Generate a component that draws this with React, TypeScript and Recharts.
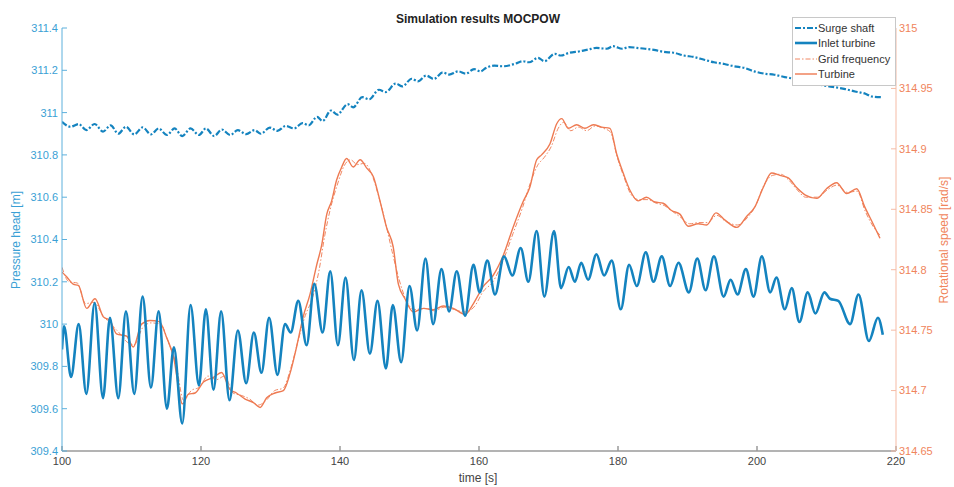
import { LineChart, Line, XAxis, YAxis } from 'recharts';

// time ticks and axis ticks
const xTicks = [100, 120, 140, 160, 180, 200, 220];
const headTicks = [309.4, 309.6, 309.8, 310, 310.2, 310.4, 310.6, 310.8, 311, 311.2, 311.4];
const speedTicks = [314.65, 314.7, 314.75, 314.8, 314.85, 314.9, 314.95, 315];

// Surge shaft (pressure head, m)
const surgeT = [100, 101.2, 102.4, 103.5, 104.7, 105.9, 107, 108.1, 109.2, 110.4, 111.6, 112.8, 113.9, 115.1, 116.2, 117.3, 118.5, 119.7, 120.7, 121.9, 123, 124.2, 125.3, 126.5, 127.7, 128.6, 129.9, 131, 132.2, 133.4, 134.6, 135.5, 136.7, 137.5, 138.7, 139.6, 141.1, 141.9, 143.2, 144.2, 145.6, 146.6, 148, 149, 150.3, 151.2, 152.4, 153.5, 154.8, 155.7, 157, 158.1, 159.3, 160.2, 161, 162.2, 163.4, 165.3, 166.3, 167.2, 168.5, 169.4, 170.9, 171.8, 173, 174.5, 175.7, 176.9, 178.4, 179.3, 180.6, 181.6, 182.7, 183.9, 185.4, 186.6, 188, 189.5, 190.9, 192.4, 193.8, 195.3, 196.7, 198.2, 199.6, 201.1, 202.5, 204, 205.4, 206.9, 208.3, 209.8, 211.2, 212.7, 214.1, 215.6, 216.5, 218];
const surgeV = [310.957, 310.933, 310.946, 310.917, 310.946, 310.91, 310.94, 310.9, 310.933, 310.897, 310.93, 310.897, 310.925, 310.894, 310.925, 310.889, 310.925, 310.894, 310.925, 310.889, 310.92, 310.894, 310.917, 310.898, 310.917, 310.9, 310.929, 310.914, 310.937, 310.925, 310.95, 310.94, 310.98, 310.96, 311.01, 310.99, 311.04, 311.025, 311.073, 311.063, 311.108, 311.097, 311.137, 311.124, 311.16, 311.148, 311.175, 311.159, 311.19, 311.18, 311.195, 311.184, 311.206, 311.195, 311.211, 311.222, 311.219, 311.232, 311.243, 311.238, 311.259, 311.243, 311.278, 311.27, 311.283, 311.29, 311.298, 311.306, 311.302, 311.314, 311.302, 311.31, 311.306, 311.302, 311.295, 311.287, 311.283, 311.27, 311.263, 311.25, 311.238, 311.23, 311.219, 311.211, 311.195, 311.184, 311.179, 311.168, 311.159, 311.148, 311.137, 311.127, 311.12, 311.111, 311.1, 311.089, 311.076, 311.073];

// Inlet turbine (pressure head, m)
const inletT = [100, 100.3, 101.3, 102.4, 103.5, 104.7, 105.9, 106.9, 108.1, 109.2, 110.4, 111.6, 112.8, 113.9, 115.1, 116.1, 117.3, 118.5, 119.7, 120.7, 121.8, 122.9, 124.1, 125.3, 126.5, 127.6, 128.7, 129.8, 131, 132.1, 132.9, 134, 135.2, 136.3, 137.5, 138.6, 139.7, 140.8, 142, 143.1, 144.3, 145.4, 146.6, 147.6, 148.8, 150, 151.1, 152.3, 153.4, 154.6, 155.7, 156.8, 158, 159.2, 160.1, 161.2, 162.3, 163.6, 164.8, 166, 167.1, 168.3, 169.4, 170.8, 171.8, 172.9, 173.8, 174.7, 175.7, 176.9, 178, 179.1, 180.4, 181.6, 182.7, 184, 185.1, 186.3, 187.5, 188.7, 190.2, 191.4, 192.6, 193.8, 195.2, 196.2, 197.2, 198.4, 199.5, 200.7, 201.9, 202.8, 204, 205, 206.1, 207.3, 208.4, 209.7, 210.5, 211.7, 213.4, 214.6, 216.1, 217.4, 218.1];
const inletV = [309.88, 309.99, 309.75, 310, 309.67, 310.1, 309.65, 310.03, 309.65, 310.06, 309.67, 310.13, 309.7, 310.06, 309.6, 309.89, 309.53, 310.09, 309.71, 310.07, 309.69, 310.06, 309.64, 309.97, 309.72, 309.96, 309.77, 310.03, 309.76, 310, 309.96, 310.11, 309.9, 310.19, 309.96, 310.25, 309.9, 310.22, 309.83, 310.16, 309.86, 310.11, 309.79, 310.09, 309.82, 310.18, 309.97, 310.31, 310, 310.26, 310.06, 310.25, 310.04, 310.28, 310.15, 310.3, 310.14, 310.32, 310.23, 310.36, 310.2, 310.44, 310.13, 310.44, 310.17, 310.27, 310.2, 310.29, 310.21, 310.33, 310.23, 310.3, 310.07, 310.28, 310.18, 310.34, 310.2, 310.32, 310.18, 310.29, 310.15, 310.31, 310.16, 310.32, 310.13, 310.21, 310.14, 310.26, 310.13, 310.32, 310.15, 310.22, 310.07, 310.17, 310.01, 310.15, 310.05, 310.15, 310.12, 310.11, 310, 310.14, 309.92, 310.03, 309.95];

// Grid frequency (rotational speed, rad/s)
const gridT = [100, 101, 102.2, 103.4, 104.6, 105.8, 107, 108.2, 109.4, 110.4, 111.6, 112.8, 114.2, 115.3, 116.4, 117.5, 118.6, 119.8, 121, 122.2, 123.4, 124.6, 125.8, 127, 128.2, 129.4, 130.6, 131.8, 133, 134, 135, 136, 137, 137.8, 138.6, 139.6, 140.6, 141.5, 142.5, 143.5, 144.5, 145.5, 146.5, 147.5, 148.5, 149.5, 150.7, 152.2, 153.6, 155, 156.5, 158, 159.4, 160.6, 162, 163.5, 164.9, 166.3, 167.4, 168.4, 169.4, 170.4, 171.4, 172.2, 173.2, 174.3, 175.5, 176.7, 177.9, 178.9, 179.9, 180.9, 181.9, 183, 184.3, 185.5, 186.7, 187.9, 189.1, 190.3, 191.6, 192.9, 194.2, 195.5, 197.2, 198.6, 199.8, 201, 202.2, 203.4, 204.6, 205.8, 207, 208.7, 210.1, 211.5, 213, 214.4, 215.6, 216.8, 217.8];
const gridV = [314.802, 314.79, 314.789, 314.772, 314.773, 314.763, 314.755, 314.748, 314.74, 314.738, 314.752, 314.756, 314.755, 314.74, 314.722, 314.692, 314.7, 314.703, 314.712, 314.709, 314.712, 314.698, 314.696, 314.693, 314.688, 314.692, 314.7, 314.702, 314.72, 314.742, 314.762, 314.776, 314.8, 314.828, 314.85, 314.87, 314.886, 314.891, 314.887, 314.888, 314.88, 314.862, 314.84, 314.815, 314.792, 314.775, 314.767, 314.768, 314.766, 314.769, 314.767, 314.765, 314.77, 314.782, 314.79, 314.808, 314.83, 314.852, 314.872, 314.886, 314.893, 314.902, 314.917, 314.922, 314.915, 314.918, 314.915, 314.919, 314.917, 314.914, 314.893, 314.876, 314.862, 314.858, 314.858, 314.855, 314.853, 314.848, 314.843, 314.838, 314.839, 314.839, 314.845, 314.84, 314.837, 314.843, 314.853, 314.87, 314.878, 314.879, 314.874, 314.866, 314.86, 314.86, 314.866, 314.87, 314.864, 314.865, 314.848, 314.835, 314.828];

// Turbine (rotational speed, rad/s)
const turbT = [100, 100.7, 101.6, 102.35, 103.55, 104.75, 105.95, 106.9, 107.85, 109.3, 110.25, 111.45, 112.65, 114, 115.05, 116, 117.35, 118.2, 119.15, 120.35, 121.8, 122.95, 124.15, 125.1, 126.35, 127.55, 128.5, 129.45, 130.65, 131.85, 132.8, 133.75, 134.7, 135.7, 136.65, 137.35, 138.1, 138.8, 139.5, 140.25, 140.95, 141.9, 142.9, 143.85, 144.8, 145.75, 146.7, 147.65, 148.4, 149.35, 150.55, 152, 153.45, 154.85, 156.3, 158, 159.2, 160.6, 162, 163.5, 164.9, 166.4, 167.3, 168.3, 169, 170.2, 171.2, 171.9, 172.85, 174.05, 175.25, 176.45, 177.65, 178.85, 179.8, 180.75, 181.7, 182.9, 184.1, 185.3, 186.5, 187.7, 188.9, 190.1, 191.55, 192.75, 194.1, 195.4, 197.1, 198.5, 199.7, 200.9, 202.1, 203.3, 204.5, 205.7, 206.9, 208.6, 210, 211.45, 212.9, 214.35, 215.5, 216.7, 217.7];
const turbV = [314.798, 314.794, 314.788, 314.787, 314.768, 314.776, 314.761, 314.758, 314.747, 314.745, 314.736, 314.755, 314.758, 314.757, 314.744, 314.729, 314.689, 314.697, 314.698, 314.707, 314.711, 314.715, 314.701, 314.698, 314.693, 314.69, 314.686, 314.694, 314.698, 314.7, 314.714, 314.736, 314.761, 314.78, 314.804, 314.82, 314.846, 314.857, 314.874, 314.885, 314.892, 314.885, 314.891, 314.884, 314.877, 314.857, 314.835, 314.819, 314.788, 314.776, 314.765, 314.768, 314.767, 314.77, 314.768, 314.763, 314.772, 314.786, 314.795, 314.812, 314.835, 314.857, 314.868, 314.891, 314.895, 314.904, 314.921, 314.925, 314.917, 314.92, 314.917, 314.92, 314.918, 314.917, 314.896, 314.88, 314.866, 314.857, 314.86, 314.856, 314.855, 314.849, 314.846, 314.836, 314.838, 314.837, 314.847, 314.841, 314.835, 314.844, 314.852, 314.868, 314.88, 314.878, 314.876, 314.868, 314.862, 314.859, 314.867, 314.872, 314.863, 314.867, 314.852, 314.838, 314.826];

const BLUE = '#1483bf';
const BLUE_TXT = '#3a9fd5';
const ORANGE = '#ee7a52';
const ORANGE_TXT = '#f0855c';
const FONT = '"Liberation Sans", Arial, sans-serif';

const zip = (t: number[], v: number[]) => t.map((x, i) => ({ t: x, v: v[i] }));
const fmt = (v: number) => String(Number(v.toFixed(2)));

const legendItems = [
  { name: 'Surge shaft', color: BLUE, width: 2.2, dash: '6 2 2 2' },
  { name: 'Inlet turbine', color: BLUE, width: 2.6, dash: undefined },
  { name: 'Grid frequency', color: ORANGE, width: 0.9, dash: '5 2 1.5 2' },
  { name: 'Turbine', color: ORANGE, width: 1.4, dash: undefined },
];

export default function App() {
  return (
    <div style={{ position: 'absolute', left: 0, top: 0, width: 954, height: 487, background: '#fff', fontFamily: FONT }}>
      <LineChart width={954} height={487} margin={{ top: 28, right: 0, left: 0, bottom: 0 }}>
        <XAxis
          dataKey="t"
          type="number"
          domain={[100, 220]}
          ticks={xTicks}
          allowDataOverflow
          height={36}
          tickSize={-5}
          tickMargin={11}
          stroke="#9a9a9a"
          strokeWidth={1.5}
          tick={{ fill: '#444', fontSize: 11, fontFamily: FONT }}
        />
        <XAxis
          xAxisId="top"
          orientation="top"
          type="number"
          domain={[100, 220]}
          ticks={xTicks}
          height={0}
          tickSize={-5}
          stroke="#9a9a9a"
          strokeWidth={1.5}
          tick={() => <g />}
        />
        <YAxis
          yAxisId="left"
          type="number"
          domain={[309.4, 311.4]}
          ticks={headTicks}
          width={62}
          tickSize={-5}
          tickMargin={9}
          stroke="#5cb0dc"
          tickFormatter={fmt}
          tick={{ fill: BLUE_TXT, fontSize: 11, fontFamily: FONT }}
        />
        <YAxis
          yAxisId="right"
          orientation="right"
          type="number"
          domain={[314.65, 315]}
          ticks={speedTicks}
          width={58}
          tickSize={-5}
          tickMargin={8}
          stroke="#f5bba5"
          tickFormatter={fmt}
          tick={{ fill: ORANGE_TXT, fontSize: 11, fontFamily: FONT }}
        />
        <Line yAxisId="right" data={zip(gridT, gridV)} dataKey="v" name="Grid frequency" type="monotone"
          stroke={ORANGE} strokeWidth={0.9} strokeDasharray="5 2 1.5 2" dot={false} isAnimationActive={false} />
        <Line yAxisId="right" data={zip(turbT, turbV)} dataKey="v" name="Turbine" type="monotone"
          stroke={ORANGE} strokeWidth={1.4} dot={false} isAnimationActive={false} />
        <Line yAxisId="left" data={zip(surgeT, surgeV)} dataKey="v" name="Surge shaft" type="monotone"
          stroke={BLUE} strokeWidth={2.2} strokeDasharray="6 2 2 2" dot={false} isAnimationActive={false} />
        <Line yAxisId="left" data={zip(inletT, inletV)} dataKey="v" name="Inlet turbine" type="monotone"
          stroke={BLUE} strokeWidth={2.6} dot={false} isAnimationActive={false} />
      </LineChart>

      {/* title and axis labels */}
      <div style={{ position: 'absolute', left: 478, top: 19, transform: 'translate(-50%,-50%)', fontSize: 12, fontWeight: 'bold', color: '#222', whiteSpace: 'nowrap' }}>
        Simulation results MOCPOW
      </div>
      <div style={{ position: 'absolute', left: 478, top: 478, transform: 'translate(-50%,-50%)', fontSize: 12, color: '#444', whiteSpace: 'nowrap' }}>
        time [s]
      </div>
      <div style={{ position: 'absolute', left: 16, top: 240, transform: 'translate(-50%,-50%) rotate(-90deg)', fontSize: 12, color: BLUE_TXT, whiteSpace: 'nowrap' }}>
        Pressure head [m]
      </div>
      <div style={{ position: 'absolute', left: 944, top: 240, transform: 'translate(-50%,-50%) rotate(-90deg)', fontSize: 12, color: ORANGE_TXT, whiteSpace: 'nowrap' }}>
        Rotational speed [rad/s]
      </div>

      {/* legend */}
      <div style={{ position: 'absolute', left: 792, top: 17, width: 102, height: 65, background: '#fff', border: '1px solid #c8c8c8', paddingTop: 2 }}>
        {legendItems.map((it) => (
          <div key={it.name} style={{ display: 'flex', alignItems: 'center', height: 15.5, fontSize: 11, color: '#333', whiteSpace: 'nowrap' }}>
            <svg width={22} height={10} style={{ marginLeft: 2, marginRight: 1 }}>
              <line x1={0} y1={5} x2={22} y2={5} stroke={it.color} strokeWidth={it.width} strokeDasharray={it.dash} />
            </svg>
            {it.name}
          </div>
        ))}
      </div>
    </div>
  );
}
